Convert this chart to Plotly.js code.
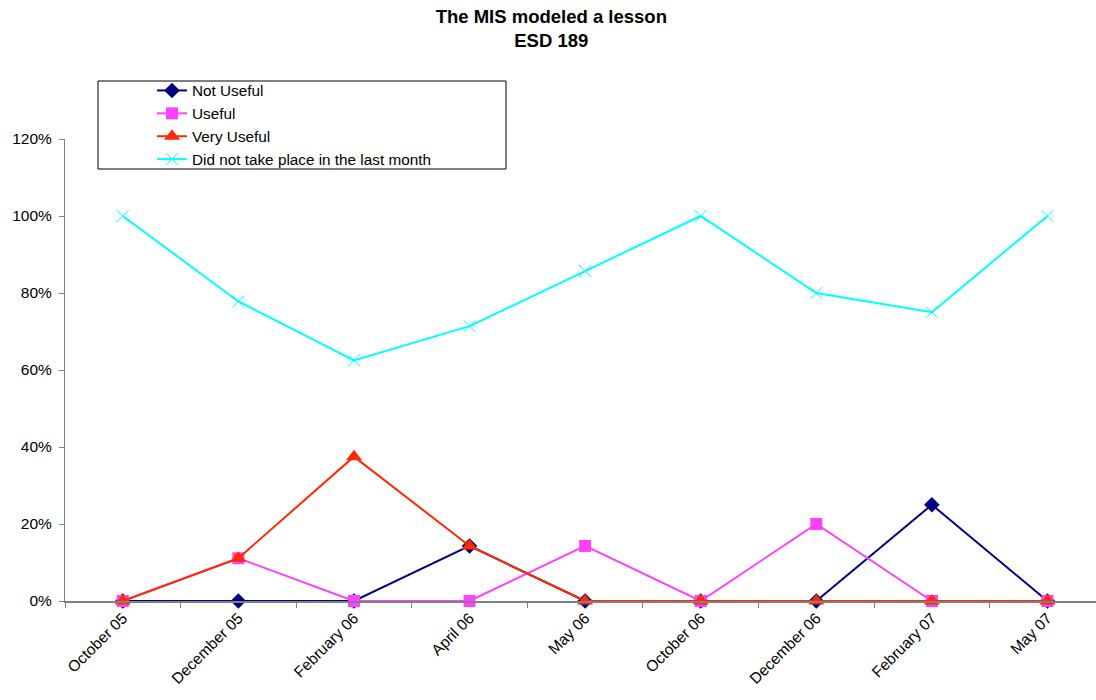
<!DOCTYPE html>
<html>
<head>
<meta charset="utf-8">
<script src="https://cdn.plot.ly/plotly-3.0.1.min.js"></script>
<style>html,body{margin:0;padding:0;background:#fff;}#chart{width:1096px;height:700px;}</style>
</head>
<body>
<div id="chart"></div>
<script>
const categories = ["October 05","December 05","February 06","April 06","May 06","October 06","December 06","February 07","May 07"];
const notUseful = [0, 0, 0, 0.143, 0, 0, 0, 0.25, 0];
const useful = [0, 0.111, 0, 0, 0.143, 0, 0.20, 0, 0];
const veryUseful = [0, 0.111, 0.375, 0.143, 0, 0, 0, 0, 0];
const didNotTakePlace = [1.0, 0.778, 0.625, 0.714, 0.857, 1.0, 0.80, 0.75, 1.0];
const seriesNames = ["Not Useful","Useful","Very Useful","Did not take place in the last month"];
const yTicks = [0, 0.2, 0.4, 0.6, 0.8, 1.0, 1.2];

const font = "Liberation Sans, Arial, sans-serif";
function tr(y, name, color, symbol, size, mline, g) {
  return {
    x: categories, y: y, name: name, type: "scatter", mode: "lines+markers",
    legendgroup: g,
    line: {color: color, width: 2},
    marker: {symbol: symbol, size: size, color: color, line: {color: color, width: mline}},
    cliponaxis: false
  };
}
const data = [
  tr(notUseful, seriesNames[0], "#000080", "diamond", 12, 0, "a"),
  tr(useful, seriesNames[1], "#FF40FF", "square", 12, 0, "b"),
  tr(veryUseful, seriesNames[2], "#FF2A00", "triangle-up", 14, 0, "c"),
  tr(didNotTakePlace, seriesNames[3], "#00FFFF", "x-thin-open", 12, 1, "d")
];
const layout = {
  width: 1096, height: 700,
  margin: {l: 65, r: 0, t: 139, b: 99},
  paper_bgcolor: "#fff", plot_bgcolor: "#fff",
  font: {family: font, size: 15.5, color: "#000"},
  title: {text: "<b>The MIS modeled a lesson<br>ESD 189</b>", font: {family: font, size: 18.5, color: "#000"},
    x: 0.503, xref: "container", xanchor: "center", y: 1 - 23/700, yref: "container", yanchor: "top"},
  showlegend: true,
  legend: {x: (152-65)/1031, xanchor: "left", y: (601-74)/462, yanchor: "top",
    bgcolor: "rgba(0,0,0,0)", borderwidth: 0, traceorder: "grouped", tracegroupgap: 0,
    font: {family: font, size: 15.3, color: "#000"}},
  shapes: [{type: "rect", xref: "paper", yref: "paper",
    x0: (98-65)/1031, x1: (506-65)/1031, y0: (601-169)/462, y1: (601-81)/462,
    line: {color: "#000", width: 1}, fillcolor: "#fff", layer: "below"}],
  xaxis: {type: "category", range: [-0.5, 8.42], showgrid: false, zeroline: false,
    showline: true, linecolor: "#808080", linewidth: 2,
    ticks: "outside", tickson: "boundaries", ticklen: 5, tickcolor: "#808080",
    tickangle: -45, tickfont: {family: font, size: 15.5, color: "#000"}},
  yaxis: {range: [0, 1.2], tickvals: yTicks, tickformat: ".0%", showgrid: false, zeroline: false,
    showline: true, linecolor: "#808080", linewidth: 1,
    ticks: "outside", ticklen: 5, tickcolor: "#808080", ticklabelstandoff: 4,
    tickfont: {family: font, size: 15.5, color: "#000"}}
};
Plotly.newPlot("chart", data, layout, {staticPlot: true});
</script>
</body>
</html>
